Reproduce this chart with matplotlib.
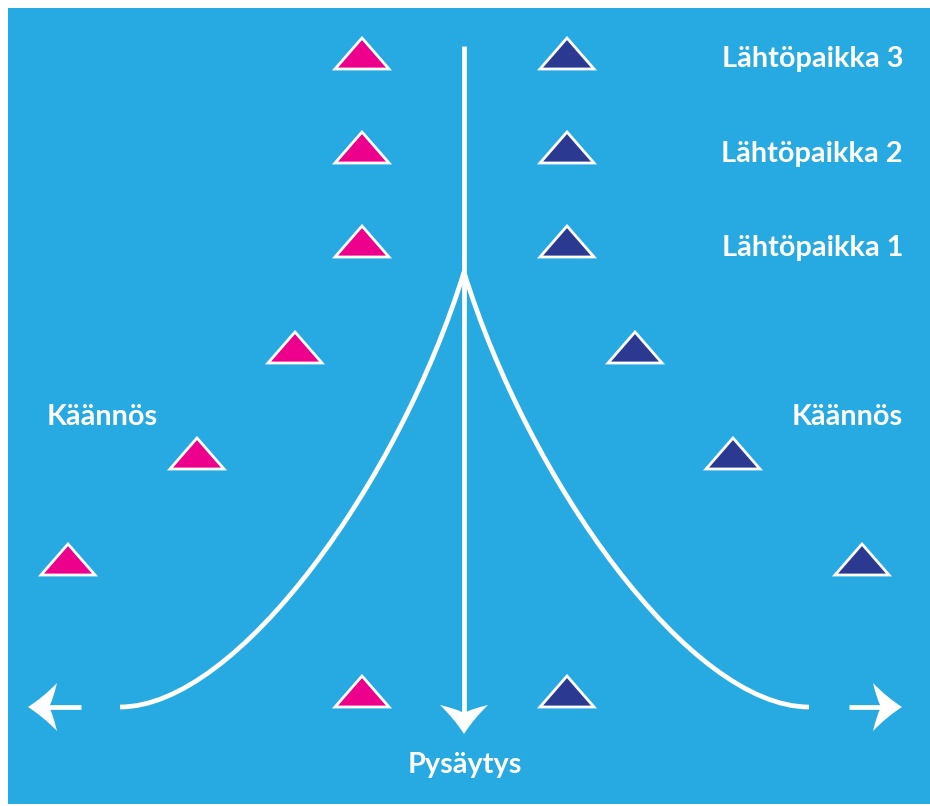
import matplotlib
matplotlib.use("Agg")
import matplotlib.pyplot as plt
from matplotlib.patches import Polygon, PathPatch, Rectangle
from matplotlib.path import Path
import numpy as np

# ---- data (pixel coordinates of the diagram) ----
pink_x = [362, 362, 362, 295, 197, 68, 362]
pink_y = [69, 163, 257, 363, 469, 575, 707]
navy_x = [567, 567, 567, 635, 733, 862, 567]
navy_y = [69, 163, 257, 363, 469, 575, 707]

start_labels = ["Lähtöpaikka 3", "Lähtöpaikka 2", "Lähtöpaikka 1"]
start_label_y = [67, 162, 256]
turn_label = "Käännös"
stop_label = "Pysäytys"

BG = "#27A9E1"
PINK = "#EC008C"
NAVY = "#2B3990"
WHITE = "#FFFFFF"

fig = plt.figure(figsize=(9.30, 8.06), dpi=100)
ax = fig.add_axes([0, 0, 1, 1])
ax.set_xlim(0, 930)
ax.set_ylim(806, 0)
ax.axis("off")

ax.add_patch(Rectangle((8, 8), 930, 796, facecolor=BG, edgecolor="none", zorder=0))

TW, TH = 54, 31


def tri(cx, by, color):
    pts = [(cx - TW / 2, by), (cx + TW / 2, by), (cx, by - TH)]
    ax.add_patch(Polygon(pts, closed=True, facecolor=color, edgecolor=WHITE,
                         linewidth=2.0, joinstyle="miter", zorder=3))


for x, y in zip(pink_x, pink_y):
    tri(x, y, PINK)
for x, y in zip(navy_x, navy_y):
    tri(x, y, NAVY)

LW = 3.4

# vertical line
ax.plot([464, 464], [46, 715], color=WHITE, lw=LW, solid_capstyle="butt", zorder=2)

# curves from the apex down to the side exits
apex = (464, 272)
for sgn, endx in [(-1, 120), (1, 809)]:
    verts = [apex,
             (464 + sgn * 64, 480),
             (464 + sgn * 226, 707),
             (endx, 707)]
    p = Path(verts, [Path.MOVETO, Path.CURVE4, Path.CURVE4, Path.CURVE4])
    ax.add_patch(PathPatch(p, facecolor="none", edgecolor=WHITE, lw=LW,
                           capstyle="butt", joinstyle="miter", zorder=2))

# side shafts
ax.plot([48, 81], [707, 707], color=WHITE, lw=LW, solid_capstyle="butt", zorder=2)
ax.plot([849, 882], [707, 707], color=WHITE, lw=LW, solid_capstyle="butt", zorder=2)


def arrowhead(tip, d, L=29, W=24, notch=0.72):
    d = np.array(d, float)
    d /= np.linalg.norm(d)
    n = np.array([-d[1], d[0]])
    t = np.array(tip, float)

    def P(a, b):
        return tuple(t + a * d + b * n)

    verts = [P(0, 0),
             P(-L * 0.52, W * 0.40), P(-L, W),
             P(-L * 0.85, W * 0.25), P(-L * notch, 0),
             P(-L * 0.85, -W * 0.25), P(-L, -W),
             P(-L * 0.52, -W * 0.40), P(0, 0),
             P(0, 0)]
    codes = [Path.MOVETO,
             Path.CURVE3, Path.CURVE3,
             Path.CURVE3, Path.CURVE3,
             Path.CURVE3, Path.CURVE3,
             Path.CURVE3, Path.CURVE3,
             Path.CLOSEPOLY]
    ax.add_patch(PathPatch(Path(verts, codes), facecolor=WHITE, edgecolor="none", zorder=4))


arrowhead((464, 734), (0, 1))
arrowhead((28, 707), (-1, 0))
arrowhead((902, 707), (1, 0))

font = dict(family=["Lato", "DejaVu Sans"], weight="bold", color=WHITE, fontsize=20.8)
for lab, y in zip(start_labels, start_label_y):
    ax.text(903, y, lab, ha="right", va="baseline", **font)
ax.text(47, 425, turn_label, ha="left", va="baseline", **font)
ax.text(903, 425, turn_label, ha="right", va="baseline", **font)
ax.text(465, 773, stop_label, ha="center", va="baseline", **font)

fig.savefig("out.png", dpi=100, facecolor="white")
